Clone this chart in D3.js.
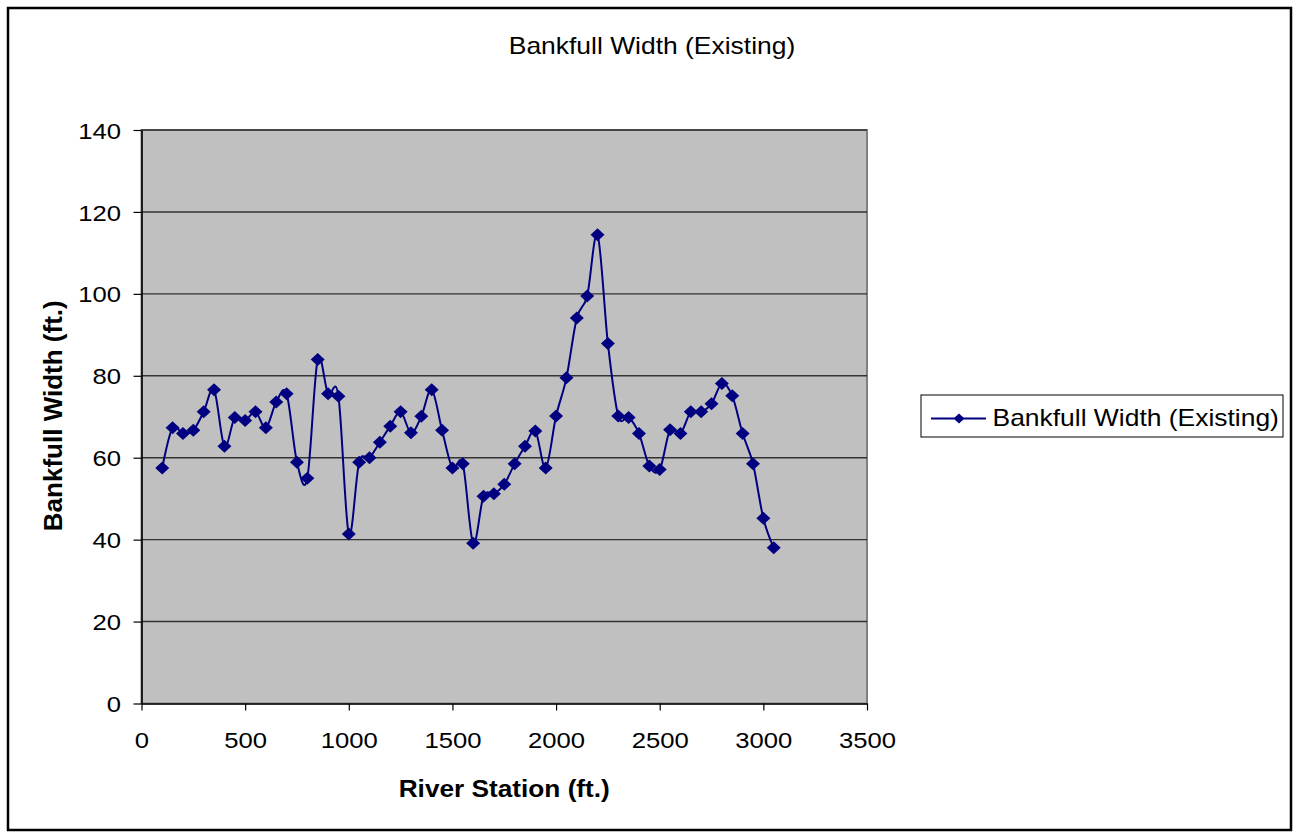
<!DOCTYPE html>
<html><head><meta charset="utf-8">
<script src="https://cdn.jsdelivr.net/npm/d3@7"></script>
<style>html,body{margin:0;padding:0;background:#fff;}svg{display:block;font-family:"Liberation Sans",Arial,sans-serif;}</style>
</head><body>
<script>
const chartTitle = "Bankfull Width (Existing)";
const xTitle = "River Station (ft.)";
const yTitle = "Bankfull Width (ft.)";
const seriesName = "Bankfull Width (Existing)";
const stations = [100,150,200,250,300,350,400,450,500,550,600,650,700,750,800,850,900,950,1000,1050,
  1100,1150,1200,1250,1300,1350,1400,1450,1500,1550,1600,1650,1700,1750,1800,1850,1900,1950,2000,2050,
  2100,2150,2200,2250,2300,2350,2400,2450,2500,2550,2600,2650,2700,2750,2800,2850,2900,2950,3000,3050];
const widths = [57.5,67.3,65.9,66.7,71.2,76.6,62.8,69.8,69.1,71.2,67.3,73.6,75.6,58.9,55.0,84.0,75.6,75.0,41.4,58.9,
  60.0,63.8,67.7,71.2,66.1,70.1,76.6,66.7,57.5,58.5,39.1,50.6,51.2,53.5,58.5,62.8,66.5,57.5,70.2,79.5,
  94.1,99.5,114.4,87.9,70.2,69.8,65.9,58.0,57.1,66.8,65.9,71.2,71.2,73.2,78.1,75.1,65.9,58.5,45.2,38.0];
const xTicks = [0,500,1000,1500,2000,2500,3000,3500];
const yTicks = [0,20,40,60,80,100,120,140];

const W = 1298, H = 833;
const SX = 1.14; // horizontal stretch of the text
const FS = 22.5;
const L = 141.5, R = 867, T = 130, B = 703.5;
const navy = "#000080";

const svg = d3.select("body").append("svg").attr("width", W).attr("height", H);
svg.append("rect").attr("x",8).attr("y",8).attr("width",1283).attr("height",822)
  .attr("fill","#fff").attr("stroke","#000").attr("stroke-width",2.5);

const x = d3.scaleLinear().domain([0,3500]).range([L,R]);
const y = d3.scaleLinear().domain([0,140]).range([B,T]);

// plot area
svg.append("rect").attr("x",L).attr("y",T).attr("width",R-L).attr("height",B-T)
  .attr("fill","#c0c0c0").attr("stroke","#808080").attr("stroke-width",2);

// gridlines
svg.append("g").selectAll("line").data(yTicks.filter(d=>d>0)).join("line")
  .attr("x1",L).attr("x2",R).attr("y1",d=>y(d)).attr("y2",d=>y(d))
  .attr("stroke","#333").attr("stroke-width",1.4);

// axes
const fmt = d3.format("d");
const yAxis = svg.append("g").attr("transform",`translate(${L},0)`)
  .call(d3.axisLeft(y).tickValues(yTicks).tickFormat(fmt).tickSize(8).tickPadding(0).tickSizeOuter(0));
const xAxis = svg.append("g").attr("transform",`translate(0,${B})`)
  .call(d3.axisBottom(x).tickValues(xTicks).tickFormat(fmt).tickSize(7).tickPadding(0).tickSizeOuter(0));
[yAxis,xAxis].forEach(g=>{
  g.select(".domain").attr("stroke","#000").attr("stroke-width",1.6);
  g.selectAll(".tick line").attr("stroke","#000").attr("stroke-width",1.2);
  g.selectAll(".tick text").attr("font-size",FS).attr("fill","#000")
    .attr("font-family","'Liberation Sans',Arial,sans-serif");
});
yAxis.selectAll(".tick text").attr("x",0).attr("dy","0.36em")
  .attr("transform",`translate(-20.5,0) scale(${SX},1)`);
xAxis.selectAll(".tick text").attr("y",0).attr("dy",0)
  .attr("transform",`translate(0,44.5) scale(${SX},1)`);

// line
const pts = stations.map((s,i)=>[s,widths[i]]);
svg.append("path").datum(pts)
  .attr("d", d3.line().x(d=>x(d[0])).y(d=>y(d[1])).curve(d3.curveCardinal.tension(0)))
  .attr("fill","none").attr("stroke",navy).attr("stroke-width",2);

const diamond = (w,h)=>`M0,${-h}L${w},0L0,${h}L${-w},0Z`;
svg.append("g").selectAll("path").data(pts).join("path")
  .attr("d",diamond(7,6.5)).attr("transform",d=>`translate(${x(d[0])},${y(d[1])})`)
  .attr("fill",navy);

// texts
function txt(xp,yp,s,opts={}){
  const sx = opts.sx===undefined?SX:opts.sx;
  const t = svg.append("text").attr("transform",`translate(${xp},${yp}) scale(${sx},1)` + (opts.rot?` rotate(${opts.rot})`:""))
    .attr("text-anchor",opts.anchor||"middle").attr("font-size",opts.size||FS)
    .attr("font-weight",opts.bold?"bold":"normal").attr("fill","#000").text(s);
  return t;
}
txt(652,54.3,chartTitle,{size:23.2});
txt((L+R)/2,796.5,xTitle,{bold:true,size:23});
txt(61.5,(T+B)/2-1,yTitle,{bold:true,rot:-90,size:26,sx:1});

// legend
const lg = svg.append("g");
lg.append("rect").attr("x",921).attr("y",395).attr("width",362).attr("height",42)
  .attr("fill","#fff").attr("stroke","#000").attr("stroke-width",1);
lg.append("line").attr("x1",931).attr("x2",986).attr("y1",418.5).attr("y2",418.5)
  .attr("stroke",navy).attr("stroke-width",2);
lg.append("path").attr("d",diamond(5.5,5)).attr("transform","translate(959,418.5)").attr("fill",navy);
txt(992.5,425.5,seriesName,{anchor:"start",size:23.2});
</script>
</body></html>
